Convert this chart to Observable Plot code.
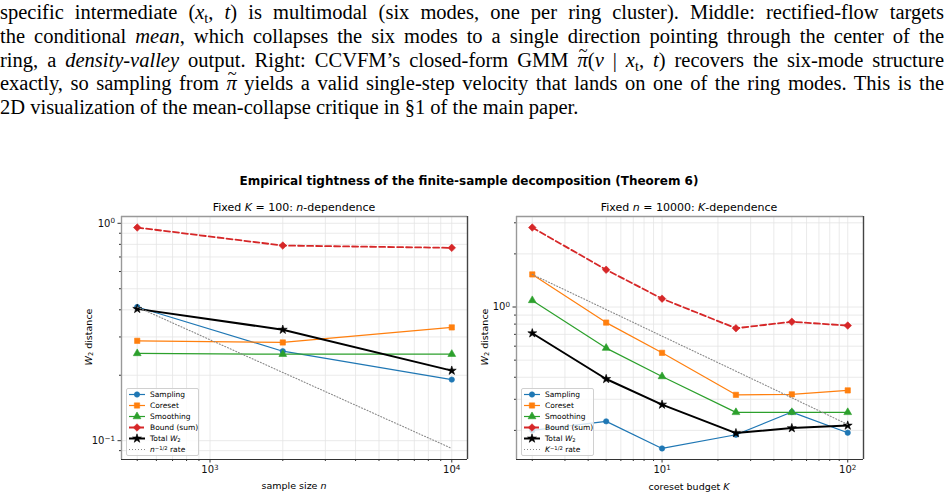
<!DOCTYPE html>
<html><head><meta charset="utf-8">
<script src="https://cdn.jsdelivr.net/npm/d3@7"></script>
<script src="https://cdn.jsdelivr.net/npm/@observablehq/plot@0.6"></script>
<style>
body{margin:0;background:#fff;width:948px;height:497px;overflow:hidden;position:relative;font-family:"DejaVu Sans",sans-serif;color:#000}
.pl{position:absolute;left:0;width:944px;font-family:"Liberation Serif",serif;font-size:20.5px;line-height:24px;white-space:nowrap;text-align:justify;text-align-last:justify}
.pl.last{text-align:left;text-align-last:left}
.pl sub{font-size:70%;vertical-align:-0.25em;line-height:0}
.tl{position:relative;display:inline-block}
.tl::after{content:"~";position:absolute;left:0.08em;top:-0.52em;font-style:normal;font-size:0.8em}
.ttl{position:absolute;white-space:nowrap;transform:translate(-50%,-50%)}
.legend{position:absolute;background:rgba(255,255,255,0.8);border:1px solid #d0d0d0;border-radius:2px;font-size:7.5px;box-sizing:border-box;white-space:nowrap}
.legend .row{height:11px;display:flex;align-items:center;white-space:nowrap}
.legend svg{margin-left:1px;margin-right:4px;flex:none}
sup{font-size:70%;line-height:0;vertical-align:0.45em}
sub{font-size:70%;line-height:0;vertical-align:-0.2em}
</style></head><body>
<script>
// ---------- data ----------
const nVals       = [500, 2000, 10000];
const nSampling   = [0.412, 0.258, 0.191];
const nCoreset    = [0.288, 0.283, 0.332];
const nSmoothing  = [0.252, 0.250, 0.250];
const nBound      = [0.956, 0.790, 0.771];
const nTotal      = [0.404, 0.324, 0.210];
const nRate       = [0.412, 0.206, 0.0921];

const kVals       = [2, 5, 10, 25, 50, 100];
const kSampling   = [0.200, 0.225, 0.158, 0.189, 0.254, 0.194];
const kCoreset    = [1.53, 0.816, 0.550, 0.318, 0.320, 0.337];
const kSmoothing  = [1.09, 0.585, 0.404, 0.253, 0.253, 0.253];
const kBound      = [2.82, 1.626, 1.115, 0.758, 0.825, 0.785];
const kTotal      = [0.710, 0.391, 0.280, 0.193, 0.206, 0.213];
const kRate       = [1.53, 0.968, 0.684, 0.433, 0.306, 0.216];

const nMajorTicks = [1000, 10000];
const nMinorTicks = [500,600,700,800,900,2000,3000,4000,5000,6000,7000,8000,9000];
const kMajorTicks = [10, 100];
const kMinorTicks = [2,3,4,5,6,7,8,9,20,30,40,50,60,70,80,90];
const yMajorLeft  = [0.1, 1];
const yMinorLeft  = [0.09,0.2,0.3,0.4,0.5,0.6,0.7,0.8,0.9];
const yMajorRight = [1];
const yMinorRight = [0.2,0.3,0.4,0.5,0.6,0.7,0.8,0.9,2,3];

const seriesNames = ["Sampling","Coreset","Smoothing","Bound (sum)","Total <i>W</i><sub>2</sub>"];

// ---------- styles ----------
const styles = [
  {color:"#1f77b4", symbol:"circle",   r:2.7, sw:1.2, dash:null},
  {color:"#ff7f0e", symbol:"square",   r:3.0, sw:1.2, dash:null},
  {color:"#2ca02c", symbol:"triangle", r:2.9, sw:1.2, dash:null},
  {color:"#d62728", symbol:"diamond2", r:3.4, sw:1.8, dash:"6,3"},
  {color:"#000000", symbol:"star",     r:2.8, sw:2.0, dash:null}
];
const rateStyle = {color:"#888", sw:1.1, dash:"1,2"};

// ---------- text ----------
const para = [
  'specific intermediate (<i>x</i><sub>t</sub>, <i>t</i>) is multimodal (six modes, one per ring cluster). Middle: rectified-flow targets',
  'the conditional <i>mean</i>, which collapses the six modes to a single direction pointing through the center of the',
  'ring, a <i>density-valley</i> output. Right: CCVFM’s closed-form GMM <i class="tl">π</i>(<i>v</i> | <i>x</i><sub>t</sub>, <i>t</i>) recovers the six-mode structure',
  'exactly, so sampling from <i class="tl">π</i> yields a valid single-step velocity that lands on one of the ring modes. This is the',
  '2D visualization of the mean-collapse critique in §1 of the main paper.'
];
para.forEach((h,i)=>{
  const d=document.createElement("div");
  d.className="pl"+(i===para.length-1?" last":"");
  d.style.top=[0,24,48,71,95][i]+"px";
  document.body.appendChild(d);
  d.style.textAlign="left"; d.style.textAlignLast="left";
  const probe=document.createElement("span");
  probe.innerHTML=h;
  d.appendChild(probe);
  let fs=20.5;
  while(probe.getBoundingClientRect().width>940 && fs>16){fs-=0.25; d.style.fontSize=fs+"px";}
  d.style.textAlign=""; d.style.textAlignLast="";
  d.innerHTML=h;
});

function addText(html,x,y,css){
  const d=document.createElement("div");
  d.className="ttl"; d.innerHTML=html;
  d.style.left=x+"px"; d.style.top=y+"px";
  Object.assign(d.style,css||{});
  document.body.appendChild(d);
  return d;
}

// ---------- helpers ----------
function logDomain(vals){
  const lo=Math.log10(d3.min(vals)), hi=Math.log10(d3.max(vals));
  const p=(hi-lo)*0.05;
  return [10**(lo-p), 10**(hi+p)];
}
// tick label "10^k", later rendered with a raised exponent
const fmtPow=d=>"10^"+(Math.round(Math.log10(d))<0?"−":"")+Math.abs(Math.round(Math.log10(d)));

function panel({xs, series, rate, xMajor, xMinor, yMajor, yMinor, width, ml, mr, left}){
  const xDom=logDomain(xs);
  const yDom=logDomain([...series.flat(), ...rate]);
  const rows=v=>xs.map((x,i)=>({x, y:v[i]}));
  const marks=[
    Plot.gridX([...xMajor,...xMinor],{stroke:"#e4e4e4",strokeOpacity:1,strokeWidth:0.8}),
    Plot.gridY([...yMajor,...yMinor],{stroke:"#e4e4e4",strokeOpacity:1,strokeWidth:0.8}),
    Plot.axisX(xMinor,{tickSize:2,tickFormat:()=>"",stroke:"#333",label:null}),
    Plot.axisX(xMajor,{tickSize:3.5,tickPadding:3,tickFormat:fmtPow,fontSize:10,stroke:"#333",label:null}),
    Plot.axisY(yMinor,{tickSize:2,tickFormat:()=>"",stroke:"#333",label:null}),
    Plot.axisY(yMajor,{tickSize:3.5,tickPadding:3,tickFormat:fmtPow,fontSize:10,stroke:"#333",label:null}),
  ];
  series.forEach((v,i)=>{
    const s=styles[i];
    marks.push(Plot.line(rows(v),{x:"x",y:"y",stroke:s.color,strokeWidth:s.sw,strokeDasharray:s.dash}));
    marks.push(Plot.dot(rows(v),{x:"x",y:"y",symbol:s.symbol,r:s.r,fill:s.color,stroke:s.color,strokeWidth:0.6}));
  });
  marks.push(Plot.line(rows(rate),{x:"x",y:"y",stroke:rateStyle.color,strokeWidth:rateStyle.sw,strokeDasharray:rateStyle.dash}));
  marks.push(Plot.ruleY([yDom[1]],{stroke:"#999",strokeWidth:1.4}));
  marks.push(Plot.ruleX([xDom[0]],{stroke:"#999",strokeWidth:1.4}));
  marks.push(Plot.ruleY([yDom[0]],{stroke:"#333",strokeWidth:1.2}));
  marks.push(Plot.ruleX([xDom[1]],{stroke:"#444",strokeWidth:1.4}));
  const svg=Plot.plot({
    width, height:297, marginLeft:ml, marginRight:mr, marginTop:16, marginBottom:38,
    x:{type:"log",domain:xDom,label:null}, y:{type:"log",domain:yDom,label:null},
    style:{fontFamily:"DejaVu Sans",fontSize:"10px",background:"transparent",color:"#111"},
    marks
  });
  // render "10^k" tick labels with a raised, smaller exponent
  d3.select(svg).selectAll("text").each(function(){
    const t=d3.select(this);
    const s=t.text();
    if(s.includes("^")){
      const [base,exp]=s.split("^");
      const tgt=t.select("tspan").empty()?t:t.select("tspan");
      tgt.text(null);
      tgt.append("tspan").text(base);
      tgt.append("tspan").attr("dy","-0.45em").attr("font-size","0.72em").text(exp);
    }
  });
  svg.style.position="absolute"; svg.style.left=left+"px"; svg.style.top="200px";
  document.body.appendChild(svg);
}

panel({xs:nVals, series:[nSampling,nCoreset,nSmoothing,nBound,nTotal], rate:nRate,
  xMajor:nMajorTicks, xMinor:nMinorTicks, yMajor:yMajorLeft, yMinor:yMinorLeft,
  width:478, ml:121, mr:11, left:0});
panel({xs:kVals, series:[kSampling,kCoreset,kSmoothing,kBound,kTotal], rate:kRate,
  xMajor:kMajorTicks, xMinor:kMinorTicks, yMajor:yMajorRight, yMinor:yMinorRight,
  width:470, ml:38, mr:85, left:478});

// ---------- titles & labels ----------
addText("Empirical tightness of the finite-sample decomposition (Theorem 6)",469,181,{fontWeight:"bold",fontSize:"12px"});
addText("Fixed <i>K</i> = 100: <i>n</i>-dependence",294,207,{fontSize:"11px"});
addText("Fixed <i>n</i> = 10000: <i>K</i>-dependence",689,207,{fontSize:"11px"});
addText("sample size <i>n</i>",294,485,{fontSize:"9.5px"});
addText("coreset budget <i>K</i>",689,486,{fontSize:"9.5px"});
addText("<i>W</i><sub>2</sub> distance",88,337,{fontSize:"9.5px",transform:"translate(-50%,-50%) rotate(-90deg)"});
addText("<i>W</i><sub>2</sub> distance",484,337,{fontSize:"9.5px",transform:"translate(-50%,-50%) rotate(-90deg)"});

// ---------- legends ----------
function legend(left, rateLabel){
  const box=document.createElement("div");
  box.className="legend";
  Object.assign(box.style,{left:left+"px",top:"388px",width:"73px",height:"68px"});
  const labels=[...seriesNames, rateLabel];
  labels.forEach((lab,i)=>{
    const row=document.createElement("div"); row.className="row";
    const svg=d3.create("svg").attr("width",18).attr("height",11);
    const st=i<5?styles[i]:rateStyle;
    svg.append("line").attr("x1",1).attr("x2",17).attr("y1",5.5).attr("y2",5.5)
      .attr("stroke",st.color).attr("stroke-width",st.sw).attr("stroke-dasharray",st.dash);
    if(i<5){
      const sym={circle:d3.symbolCircle,square:d3.symbolSquare,triangle:d3.symbolTriangle,diamond2:d3.symbolDiamond2,star:d3.symbolStar}[st.symbol];
      svg.append("path").attr("transform","translate(9,5.5)")
        .attr("d",d3.symbol(sym,Math.PI*st.r*st.r)()).attr("fill",st.color).attr("stroke",st.color).attr("stroke-width",0.6);
    }
    row.appendChild(svg.node());
    const sp=document.createElement("span"); sp.innerHTML=lab; row.appendChild(sp);
    box.appendChild(row);
  });
  document.body.appendChild(box);
}
legend(126,"<i>n</i><sup>−1/2</sup> rate");
legend(521,"<i>K</i><sup>−1/2</sup> rate");
</script>
</body></html>
